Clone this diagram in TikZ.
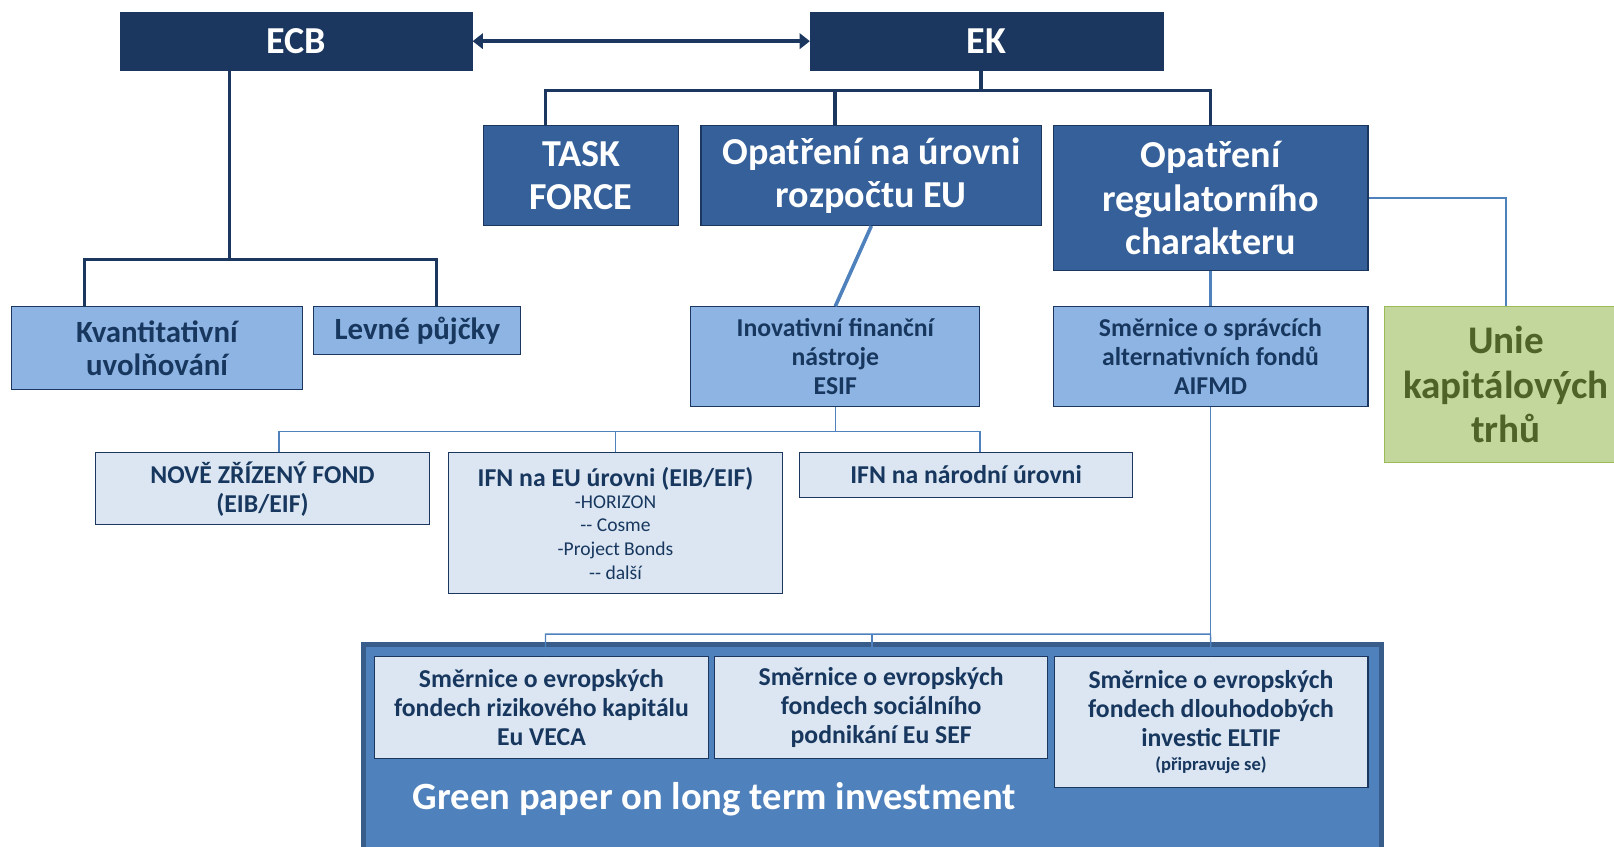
\documentclass[tikz,border=0pt]{standalone}
\usepackage{fontspec}
\setmainfont{Carlito}
\usetikzlibrary{arrows.meta}

\definecolor{navy}{HTML}{1B375F}
\definecolor{midblue}{HTML}{36609A}
\definecolor{lightblue}{HTML}{8EB4E3}
\definecolor{paleblue}{HTML}{DCE6F2}
\definecolor{accent}{HTML}{4F81BD}
\definecolor{frameblue}{HTML}{385D8A}
\definecolor{greenfill}{HTML}{C3D69B}
\definecolor{greenline}{HTML}{9BBB59}
\definecolor{greentext}{HTML}{4F6228}
\definecolor{textnavy}{HTML}{17375E}

\tikzset{
	topbox/.style={draw=navy, fill=navy, text=white, inner sep=0pt,
		font=\fontsize{37}{40}\selectfont\bfseries},
	midbox/.style={draw=navy, line width=1pt, fill=midblue, text=white, align=center,
		inner sep=0pt, font=\fontsize{37}{42}\selectfont\bfseries},
	lightbox/.style={draw=navy, line width=1pt, fill=lightblue, text=textnavy, align=center,
		inner sep=0pt},
	palebox/.style={draw=navy, line width=1pt, fill=paleblue, text=textnavy, align=center,
		inner sep=0pt},
	navyline/.style={draw=navy, line width=3.5pt},
	thickblue/.style={draw=accent, line width=3.5pt},
	thinblue/.style={draw=accent, line width=1.3pt},
	big/.style={font=\fontsize{30}{32}\selectfont\bfseries},
	small/.style={font=\fontsize{25}{28}\selectfont\bfseries}
}

\begin{document}
\begin{tikzpicture}[x=1pt, y=-1pt]
		\useasboundingbox (0,0) rectangle (1568,822);
		% top level
		\node [topbox, minimum width=342pt, minimum height=56pt] (ECB) at (288, 40) {ECB};
		\node [topbox, minimum width=343pt, minimum height=56pt] (EK) at (958.5, 40) {EK};
		\draw [navyline, {Triangle[length=10pt, width=15pt]}-{Triangle[length=10pt, width=15pt]}] (ECB.east) -- (EK.west);
		
		% ECB branch
		\node [lightbox, big, minimum width=283pt, minimum height=80pt] (KV) at (152.5, 338) {Kvantitativní\\uvolňování};
		\node [lightbox, big, minimum width=201pt, minimum height=46pt] (LP) at (405.5, 321) {Levné půjčky};
		\coordinate (ECBbar) at (223, 252);
		\draw [navyline] (ECB.south -| ECBbar) -- (ECBbar);
		\draw [navyline] ([xshift=-70.5pt]KV.north) |- (ECBbar) -| ([xshift=18.5pt]LP.north);
		
		% EK branch
		\node [midbox, minimum width=189pt, minimum height=97pt] (TF) at (564.5, 170.5) {TASK\\FORCE};
		\node [midbox, minimum width=331pt, minimum height=97pt] (RO) at (846.5, 170.5) {Opatření na úrovni\\rozpočtu EU};
		\node [midbox, minimum width=306pt, minimum height=141pt] (RE) at (1176, 192.5) {Opatření\\regulatorního\\charakteru};
		\coordinate (EKbar) at (953, 88);
		\draw [navyline] (EK.south -| EKbar) -- (EKbar);
		\draw [navyline] ([xshift=-34.5pt]TF.north) |- (EKbar) -| (RE.north);
		\draw [navyline] ([xshift=-35.5pt]RO.north) -- ([xshift=-35.5pt]RO.north |- EKbar);
		
		\node [lightbox, small, minimum width=281pt, minimum height=97pt] (ESIF) at (811.5, 346.5) {Inovativní finanční\\nástroje\\ESIF};
		\node [lightbox, small, minimum width=306pt, minimum height=97pt] (AIF) at (1176, 346.5) {Směrnice o správcích\\alternativních fondů\\AIFMD};
		\node [draw=greenline, line width=1.2pt, fill=greenfill, text=greentext, align=center, inner sep=0pt,
			font=\fontsize{38}{43}\selectfont\bfseries, minimum width=236pt, minimum height=151pt] (UK) at (1463, 373.5) {Unie\\kapitálových\\trhů};
		\draw [thickblue] (RO.south) -- (ESIF.north);
		\draw [thickblue] (RE.south) -- (AIF.north);
		\draw [thinblue] (RE.east) -| (UK.north);
		
		% IFN
		\node [palebox, small, minimum width=324pt, minimum height=70pt] (NF) at (255, 475) {NOVĚ ZŘÍZENÝ FOND\\(EIB/EIF)};
		\node [palebox, font=\fontsize{19}{23}\selectfont, minimum width=324pt, minimum height=137pt] (IE) at (598, 508.5)
			{{\fontsize{25}{28}\selectfont\bfseries IFN na EU úrovni (EIB/EIF)}\\[-2pt]
			-HORIZON\\-{}- Cosme\\-Project Bonds\\-{}- další};
		\node [palebox, small, minimum width=323pt, minimum height=43pt] (IN) at (938.5, 461.5) {IFN na národní úrovni};
		\coordinate (ESIFbar) at (811.5, 419);
		\draw [thinblue] (ESIF.south) -- (ESIFbar);
		\draw [thinblue] ([xshift=16pt]NF.north) |- (ESIFbar) -| ([xshift=13.5pt]IN.north);
		\draw [thinblue] (IE.north) -- (IE.north |- ESIFbar);
		
		% green paper
		\node [draw=frameblue, line width=4.5pt, fill=accent, minimum width=989pt, minimum height=209pt, inner sep=0pt] (GP) at (847.5, 730.5) {};
		\node [anchor=west, text=white, font=\fontsize{37.5}{40}\selectfont\bfseries, inner sep=0pt] (GPT) at (401, 776) {Green paper on long term investment};
		\node [palebox, small, minimum width=324pt, minimum height=99pt] (VE) at (526, 687.5) {Směrnice o evropských\\fondech rizikového kapitálu\\Eu VECA};
		\node [palebox, small, minimum width=324pt, minimum height=99pt] (SE) at (856, 687.5) {Směrnice o evropských\\fondech sociálního\\podnikání Eu SEF};
		\node [palebox, small, minimum width=305pt, minimum height=127pt] (EL) at (1176.5, 701.5)
			{Směrnice o evropských\\fondech dlouhodobých\\investic ELTIF\\[-4pt]
			{\fontsize{18}{20}\selectfont (připravuje se)}};
		\coordinate (AIFbar) at (1176, 616);
		\draw [thinblue] (AIF.south) -- (AIFbar);
		\draw [thinblue] ([xshift=4pt]VE.north) |- (AIFbar) -- (EL.north);
		\draw [thinblue] ([xshift=-9pt]SE.north) -- ([xshift=-9pt]SE.north |- AIFbar);
\end{tikzpicture}
\end{document}
